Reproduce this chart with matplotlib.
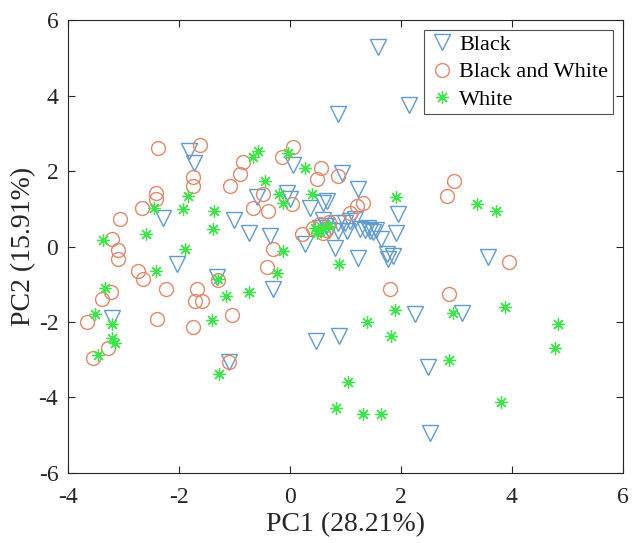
import matplotlib
matplotlib.use("Agg")

import numpy as np
import matplotlib.pyplot as plt

# -------------------------------
# PCA scores
# -------------------------------
black_x = [1.59, 2.14, 0.86, -1.82, -1.73, 0.06, 0.93, -0.06, -0.60, 0.00,
           0.36, 0.60, 0.66, 1.23, 1.95, -2.29, -1.01, -0.74, -0.36, 1.08,
           0.87, 0.99, 1.17, 0.87, 1.02, 1.26, 1.35, 1.45, 1.55, 1.40,
           1.50, 1.65, 1.92, 0.27, 0.81, 1.75, 1.86, 1.77, 1.23, -2.04,
           -1.31, -0.30, 3.57, -3.20, 2.26, 3.10, 0.47, 0.88, -1.10, 2.49,
           2.52, 0.60, 0.65, 0.70, 0.55]
black_y = [5.28, 3.76, 3.52, 2.54, 2.20, 2.17, 1.95, 1.43, 1.30, 1.26,
           1.03, 1.16, 1.21, 1.53, 0.87, 0.76, 0.70, 0.36, 0.28, 0.68,
           0.63, 0.63, 0.73, 0.41, 0.41, 0.47, 0.45, 0.40, 0.45, 0.50,
           0.38, 0.20, 0.36, 0.07, -0.03, -0.20, -0.25, -0.33, -0.30, -0.47,
           -0.80, -1.12, -0.28, -1.90, -1.80, -1.77, -2.51, -2.38, -3.05, -3.20,
           -4.93, 0.70, 0.55, 0.45, 0.50]

bw_x = [-2.38, -1.62, -0.85, 0.05, -0.14, 0.56, 0.48, 0.87, -0.90, -1.75,
        -1.74, -1.08, -2.42, -2.42, -2.67, -0.48, -0.66, -0.39, 0.03, 1.32,
        1.20, 1.08, 2.83, 2.96, -3.06, -3.21, -3.10, -3.10, 0.21, 0.41,
        -0.30, -0.42, -2.74, -2.65, -2.23, -3.23, -3.39, -1.30, -1.67, -1.71,
        -1.58, 3.95, 2.87, 1.80, -3.66, -2.40, -1.74, -1.04, -3.28, -3.55,
        -1.10, 0.55, 0.65, 0.60, 0.70]
bw_y = [2.62, 2.70, 2.25, 2.65, 2.38, 2.09, 1.79, 1.87, 1.93, 1.85,
        1.61, 1.61, 1.43, 1.26, 1.03, 1.39, 1.03, 0.95, 1.13, 1.16,
        1.08, 0.90, 1.34, 1.74, 0.73, 0.20, -0.10, -0.33, 0.33, 0.49,
        -0.07, -0.54, -0.65, -0.87, -1.12, -1.20, -1.39, -0.90, -1.12, -1.45,
        -1.45, -0.41, -1.27, -1.12, -2.00, -1.92, -2.14, -1.82, -2.70, -2.96,
        -3.05, 0.60, 0.45, 0.35, 0.65]

white_x = [-0.67, -0.58, -0.03, 0.27, -0.45, -1.84, -2.45, -1.93, -1.37, -0.19,
           -0.12, 0.39, 1.92, 3.37, 3.71, -1.39, -2.60, -3.37, -1.89, 0.48,
           -0.12, -2.42, -0.24, 0.88, -3.33, -1.30, -1.15, -0.73, -3.51, -1.41,
           -3.20, -3.20, -3.15, -3.46, -1.28, 1.90, 1.38, 1.82, 2.94, 3.87,
           4.83, 4.77, 2.87, 1.05, 0.83, 1.32, 1.64, 3.80, 0.50, 0.60,
           0.55, 0.70, 0.45]
white_y = [2.36, 2.54, 2.49, 2.09, 1.74, 1.34, 1.03, 1.00, 0.95, 1.39,
           1.16, 1.39, 1.30, 1.13, 0.95, 0.47, 0.33, 0.17, -0.06, 0.36,
           -0.12, -0.65, -0.70, -0.47, -1.10, -0.85, -1.31, -1.20, -1.80, -1.95,
           -2.05, -2.43, -2.56, -2.88, -3.38, -1.68, -2.00, -2.38, -1.77, -1.60,
           -2.05, -2.69, -3.00, -3.59, -4.28, -4.44, -4.44, -4.13, 0.45, 0.50,
           0.40, 0.55, 0.50]

labels = ["Black", "Black and White", "White"]
xlabel = "PC1 (28.21%)"
ylabel = "PC2 (15.91%)"

# -------------------------------
# Plot
# -------------------------------
plt.rcParams["font.family"] = ["Liberation Serif", "DejaVu Serif"]
plt.rcParams["axes.unicode_minus"] = False

fig = plt.figure(figsize=(6.33, 5.43), dpi=100)
ax = fig.add_axes([0.1074, 0.129, 0.8766, 0.834])

ax.plot(black_x, black_y, linestyle="none", marker="v", markersize=11,
        markerfacecolor="none", markeredgecolor="#5f9bd0", markeredgewidth=1.0,
        label=labels[0])
ax.plot(bw_x, bw_y, linestyle="none", marker="o", markersize=10,
        markerfacecolor="none", markeredgecolor="#e2896a", markeredgewidth=1.0,
        label=labels[1])
ax.plot(white_x, white_y, linestyle="none", marker=(8, 2, 0), markersize=9,
        markerfacecolor="none", markeredgecolor="#3ae845", markeredgewidth=0.9,
        label=labels[2])

ax.set_xlim(-4, 6)
ax.set_ylim(-6, 6)
ax.set_xticks(np.arange(-4, 7, 2))
ax.set_yticks(np.arange(-6, 7, 2))
ax.tick_params(direction="in", top=True, right=True, labelsize=17,
               colors="#262626", length=5, width=0.8)
ax.tick_params(axis="x", pad=10)
ax.tick_params(axis="y", pad=7)
for s in ax.spines.values():
    s.set_color("#262626")
    s.set_linewidth(0.8)

ax.set_xlabel(xlabel, fontsize=20, color="#262626", labelpad=3)
ax.set_ylabel(ylabel, fontsize=20, color="#262626", labelpad=2)

leg = ax.legend(loc="upper right", fontsize=16, frameon=True, fancybox=False,
                borderaxespad=0.45, handletextpad=0.2, handlelength=1.2,
                borderpad=0.2, labelspacing=0.3)
leg.get_frame().set_edgecolor("#262626")
leg.get_frame().set_linewidth(0.8)

fig.savefig("out.png", dpi=100)
